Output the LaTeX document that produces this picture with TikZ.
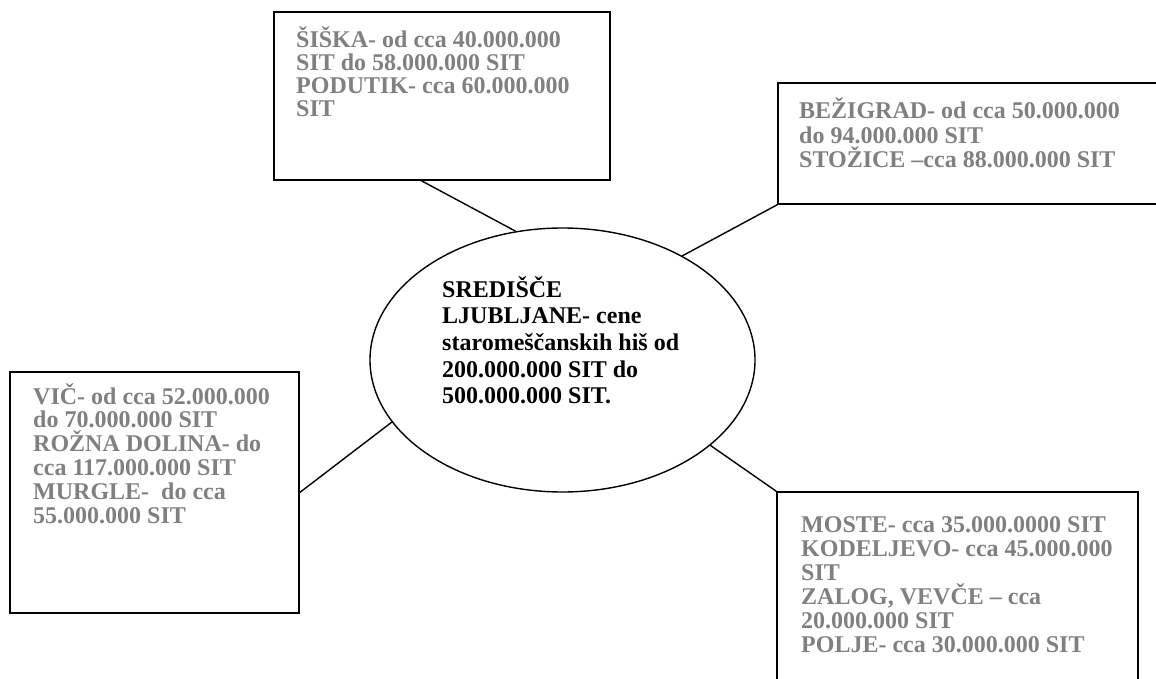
\documentclass[tikz,border=0pt]{standalone}
\usepackage{fontspec}
\setmainfont{Liberation Serif}
\usetikzlibrary{shapes.geometric}
\definecolor{txtgray}{HTML}{808080}
\tikzset{
  pbox/.style={draw=black, line width=1.5pt, rectangle, inner sep=0pt},
  hub/.style={draw=black, line width=1.4pt, ellipse, inner sep=0pt, minimum width=385pt, minimum height=264pt},
  gtext/.style={anchor=base west, inner sep=0pt, text=txtgray, font=\fontsize{24}{24}\bfseries\selectfont},
  btext/.style={anchor=base west, inner sep=0pt, text=black, font=\fontsize{24}{24}\bfseries\selectfont},
  link/.style={draw=black, line width=1.4pt}
}
\begin{document}
\begin{tikzpicture}[x=1pt,y=-1pt]
\clip (0,0) rectangle (1156,679);
\fill[white] (0,0) rectangle (1156,679);
% boxes
\node[pbox, minimum width=336pt, minimum height=168pt] (siska) at (442,96) {};
\node[pbox, minimum width=392pt, minimum height=121pt] (bez) at (974,143.5) {};
\node[pbox, minimum width=289pt, minimum height=241pt] (vic) at (154.5,492.5) {};
\node[pbox, minimum width=361pt, minimum height=208pt] (moste) at (957.5,596) {};
\node[hub] (center) at (562.5,360) {};
% texts
\node[gtext] (tsiska) at (296,48) {\vtop{\baselineskip=23pt\lineskiplimit=-20pt
  \hbox{ŠIŠKA- od cca 40.000.000}\hbox{SIT do 58.000.000 SIT}\hbox{PODUTIK- cca 60.000.000}\hbox{SIT}}};
\node[gtext] (tbez) at (799,119) {\vtop{\baselineskip=24.5pt\lineskiplimit=-20pt
  \hbox{BEŽIGRAD- od cca 50.000.000}\hbox{do 94.000.000 SIT}\hbox{STOŽICE –cca 88.000.000 SIT}}};
\node[gtext] (tvic) at (33,404) {\vtop{\baselineskip=23.8pt\lineskiplimit=-20pt
  \hbox{VIČ- od cca 52.000.000}\hbox{do 70.000.000 SIT}\hbox{ROŽNA DOLINA- do}\hbox{cca 117.000.000 SIT}\hbox{MURGLE-\ \ do cca}\hbox{55.000.000 SIT}}};
\node[gtext] (tmoste) at (801,532) {\vtop{\baselineskip=24pt\lineskiplimit=-20pt
  \hbox{MOSTE- cca 35.000.0000 SIT}\hbox{KODELJEVO- cca 45.000.000}\hbox{SIT}\hbox{ZALOG, VEVČE – cca}\hbox{20.000.000 SIT}\hbox{POLJE- cca 30.000.000 SIT}}};
\node[btext] (tcenter) at (442,297) {\vtop{\baselineskip=26.7pt\lineskiplimit=-20pt
  \hbox{SREDIŠČE}\hbox{LJUBLJANE- cene}\hbox{staromeščanskih hiš od}\hbox{200.000.000 SIT do}\hbox{500.000.000 SIT.}}};
% connectors
\coordinate (s1) at (420,180);
\draw[link] (s1) -- (center.110);
\draw[link] (bez.south west) -- (center.41);
\draw[link] (vic.east) -- (center.200);
\draw[link] (moste.north west) -- (center.-30);
\end{tikzpicture}
\end{document}
